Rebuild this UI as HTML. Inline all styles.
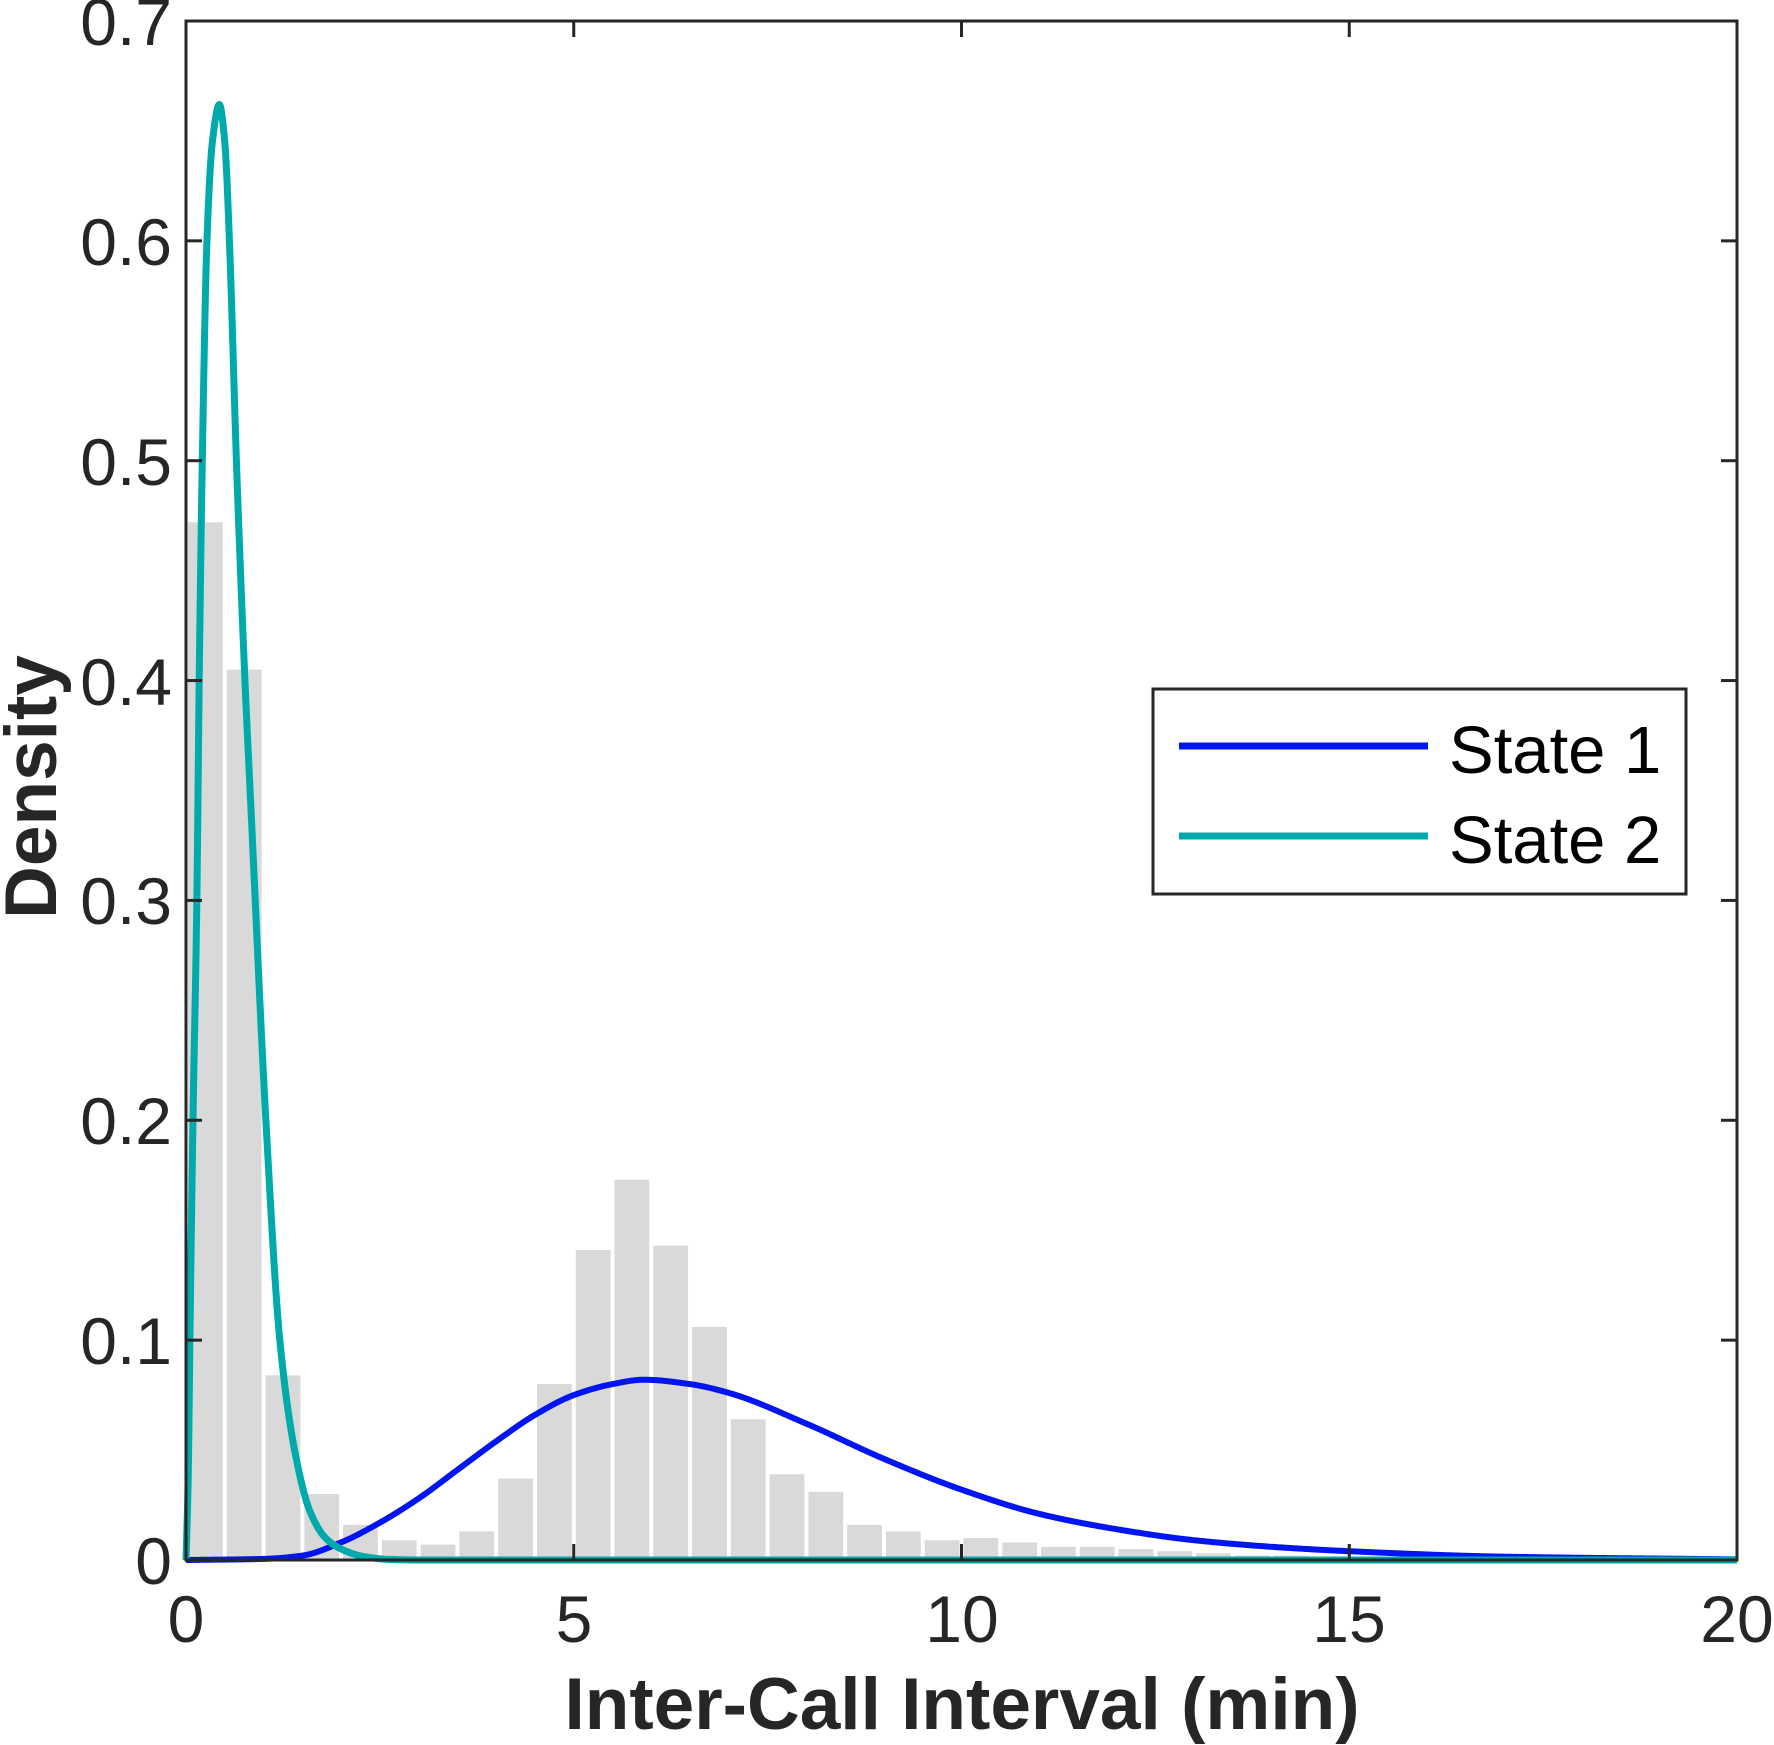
<!DOCTYPE html>
<html><head><meta charset="utf-8"><style>
html,body{margin:0;padding:0;background:#fff;}
svg{display:block;font-family:"Liberation Sans",Arial,sans-serif;}
</style></head><body>
<svg id="s" width="1774" height="1745" viewBox="0 0 1774 1745" xmlns="http://www.w3.org/2000/svg">
<rect width="1774" height="1745" fill="#fff"/>
<g id="bars"></g>
<path id="c1" fill="none" stroke="#0015F2" stroke-width="6" stroke-linejoin="round"/>
<path id="c2" fill="none" stroke="#00AAAA" stroke-width="7" stroke-linejoin="round"/>
<g stroke="#262626" stroke-width="3" fill="none">
<rect x="186" y="21" width="1551" height="1539"/>
<g id="ticks"></g>
</g>
<g fill="#262626" font-size="66" text-anchor="end">
<text x="172" y="45">0.7</text>
<text x="172" y="265">0.6</text>
<text x="172" y="485">0.5</text>
<text x="172" y="705">0.4</text>
<text x="172" y="924">0.3</text>
<text x="172" y="1144">0.2</text>
<text x="172" y="1364">0.1</text>
<text x="172" y="1584">0</text>
</g>
<g fill="#262626" font-size="66" text-anchor="middle">
<text x="186" y="1642">0</text>
<text x="574" y="1642">5</text>
<text x="962" y="1642">10</text>
<text x="1349" y="1642">15</text>
<text x="1737" y="1642">20</text>
</g>
<text x="962" y="1729" fill="#262626" font-size="73" font-weight="bold" text-anchor="middle">Inter-Call Interval (min)</text>
<text transform="translate(56,787) rotate(-90)" fill="#262626" font-size="73" font-weight="bold" text-anchor="middle">Density</text>
<rect x="1153" y="689" width="533" height="205" fill="#fff" stroke="#262626" stroke-width="3"/>
<line x1="1179" y1="746" x2="1428" y2="746" stroke="#0015F2" stroke-width="7"/>
<line x1="1179" y1="836" x2="1428" y2="836" stroke="#00AAAA" stroke-width="7"/>
<text x="1449" y="773" font-size="67" fill="#000">State 1</text>
<text x="1449" y="863" font-size="67" fill="#000">State 2</text>
</svg>
<script>
var X=function(v){return 186+v*77.55;},Y=function(v){return 1560-v*2198.6;};
var h=[0.472,0.405,0.084,0.030,0.016,0.009,0.007,0.013,0.037,0.080,0.141,0.173,0.143,0.106,0.064,0.039,0.031,0.016,0.013,0.009,0.010,0.008,0.006,0.006,0.005,0.004,0.003,0.002,0.002,0.0015,0.001,0.001,0.0008,0.0006,0.0005];
var b='';for(var i=0;i<h.length;i++){var x0=X(i*0.5)+2,x1=X(i*0.5+0.5)-2;b+='<rect x="'+x0+'" y="'+Y(h[i])+'" width="'+(x1-x0)+'" height="'+(1560-Y(h[i]))+'" fill="#d9d9d9"/>';}
document.getElementById('bars').innerHTML=b;
function mono(p,step){var n=p.length,xs=p.map(function(a){return a[0]}),ys=p.map(function(a){return a[1]});
var d=[],m=[];for(var i=0;i<n-1;i++)d.push((ys[i+1]-ys[i])/(xs[i+1]-xs[i]));
m[0]=d[0];m[n-1]=d[n-2];for(i=1;i<n-1;i++){if(d[i-1]*d[i]<=0)m[i]=0;else{var w1=2*(xs[i+1]-xs[i])+(xs[i]-xs[i-1]),w2=(xs[i+1]-xs[i])+2*(xs[i]-xs[i-1]);m[i]=(w1+w2)/(w1/d[i-1]+w2/d[i]);}}
var s='';var k=0;for(var x=0;x<=20.0001;x+=step){while(k<n-2&&x>xs[k+1])k++;var hh=xs[k+1]-xs[k],t=(x-xs[k])/hh;if(t>1)t=1;
var t2=t*t,t3=t2*t,y=(2*t3-3*t2+1)*ys[k]+(t3-2*t2+t)*hh*m[k]+(-2*t3+3*t2)*ys[k+1]+(t3-t2)*hh*m[k+1];if(y<0)y=0;
s+=(s?' L':'M')+X(x).toFixed(2)+','+Y(y).toFixed(2);}return s;}
var p2=[[0,0],[0.03,0.04],[0.05,0.1],[0.09,0.2],[0.14,0.3],[0.17,0.4],[0.21,0.5],[0.27,0.6],[0.34,0.645],[0.43,0.662],[0.5,0.645],[0.56,0.6],[0.65,0.5],[0.76,0.4],[0.84,0.34],[1.03,0.2],[1.21,0.1],[1.4,0.05],[1.6,0.022],[1.8,0.01],[2.0,0.005],[2.3,0.0015],[2.6,0.0003],[3,0],[20,0]];
var p1=[[0,0],[1,0.0005],[1.5,0.002],[2,0.008],[2.5,0.017],[3,0.028],[3.5,0.041],[4,0.054],[4.5,0.066],[5,0.075],[5.5,0.08],[5.9,0.082],[6.5,0.08],[7,0.076],[8,0.062],[9,0.046],[10,0.032],[11,0.021],[12,0.014],[13,0.009],[14,0.006],[15,0.004],[17,0.0015],[20,0.0003]];
document.getElementById('c1').setAttribute('d',mono(p1,0.02));
document.getElementById('c2').setAttribute('d',mono(p2,0.01));
var t='';[5,10,15].forEach(function(v){var x=X(v);t+='<line x1="'+x+'" y1="1560" x2="'+x+'" y2="1544"/><line x1="'+x+'" y1="21" x2="'+x+'" y2="37"/>';});
for(var k=1;k<7;k++){var y=Y(k/10);t+='<line x1="186" y1="'+y+'" x2="202" y2="'+y+'"/><line x1="1737" y1="'+y+'" x2="1721" y2="'+y+'"/>';}
document.getElementById('ticks').innerHTML=t;
</script>
</body></html>
